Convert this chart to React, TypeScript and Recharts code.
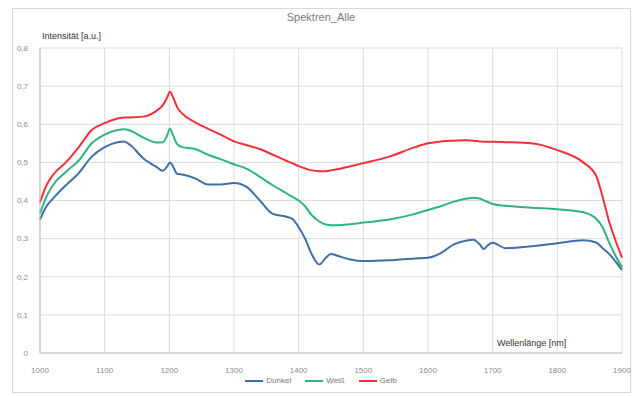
import React from 'react';
import { LineChart, Line, XAxis, YAxis, CartesianGrid } from 'recharts';

const wavelengths = [1000,1010,1020,1040,1060,1080,1100,1120,1130,1140,1160,1180,1190,1196,1201,1206,1212,1220,1240,1260,1280,1300,1320,1340,1360,1380,1390,1400,1410,1420,1432,1442,1450,1460,1480,1500,1540,1580,1600,1620,1640,1660,1670,1680,1686,1692,1700,1720,1760,1800,1840,1860,1870,1880,1890,1900];

const dunkel = [0.35,0.385,0.405,0.44,0.472,0.515,0.54,0.553,0.555,0.545,0.51,0.488,0.478,0.488,0.5,0.488,0.47,0.468,0.458,0.442,0.442,0.446,0.435,0.4,0.365,0.358,0.352,0.33,0.3,0.26,0.232,0.25,0.26,0.255,0.245,0.241,0.243,0.248,0.25,0.262,0.285,0.295,0.297,0.285,0.273,0.282,0.289,0.275,0.28,0.288,0.296,0.29,0.275,0.26,0.24,0.218];

const weiss = [0.365,0.41,0.44,0.475,0.505,0.55,0.573,0.585,0.587,0.583,0.565,0.552,0.553,0.568,0.588,0.57,0.548,0.54,0.535,0.52,0.508,0.495,0.483,0.462,0.44,0.42,0.41,0.4,0.385,0.362,0.345,0.337,0.335,0.335,0.338,0.342,0.35,0.365,0.375,0.385,0.397,0.405,0.407,0.405,0.401,0.396,0.391,0.386,0.381,0.377,0.369,0.352,0.33,0.29,0.255,0.225];

const gelb = [0.395,0.44,0.467,0.5,0.54,0.585,0.603,0.615,0.618,0.618,0.62,0.635,0.65,0.668,0.685,0.67,0.645,0.628,0.605,0.588,0.572,0.555,0.545,0.535,0.52,0.505,0.498,0.49,0.484,0.479,0.477,0.477,0.479,0.482,0.49,0.498,0.515,0.54,0.55,0.555,0.557,0.558,0.557,0.555,0.554,0.554,0.554,0.553,0.55,0.532,0.5,0.465,0.41,0.345,0.295,0.25];

const xTicks = [1000,1100,1200,1300,1400,1500,1600,1700,1800,1900];
const yTicks = [0,0.1,0.2,0.3,0.4,0.5,0.6,0.7,0.8];

const seriesNames = ['Dunkel', 'Weiß', 'Gelb'];
const seriesColors = ['#3f6fa6', '#2fb37f', '#f2303c'];

const data = wavelengths.map((w, i) => ({ w, Dunkel: dunkel[i], 'Weiß': weiss[i], Gelb: gelb[i] }));

const font = '"Liberation Sans", "DejaVu Sans", sans-serif';

export default function App() {
  return (
    <div style={{ position: 'absolute', left: 0, top: 0, width: 642, height: 396, background: '#fff', fontFamily: font }}>
      <div style={{ position: 'absolute', left: 12, top: 8, width: 617, height: 383, border: '1px solid #d9d9d9' }} />
      <LineChart width={642} height={396} data={data} margin={{ top: 48, right: 20, bottom: 23, left: 0 }}>
        <CartesianGrid stroke="#dcdcdc" strokeWidth={1} />
        <XAxis
          dataKey="w"
          type="number"
          domain={[1000, 1900]}
          ticks={xTicks}
          height={20}
          tickLine={false}
          axisLine={{ stroke: '#bfbfbf' }}
          tickMargin={8}
          tick={{ fontSize: 8, fill: '#8c8c8c', fontFamily: font }}
        />
        <YAxis
          type="number"
          domain={[0, 0.8]}
          ticks={yTicks}
          width={40}
          tickLine={false}
          axisLine={{ stroke: '#bfbfbf' }}
          tickMargin={6}
          tick={{ fontSize: 8, fill: '#8c8c8c', fontFamily: font }}
          tickFormatter={(v: number) => (v === 0 ? '0' : v.toFixed(1).replace('.', ','))}
        />
        {seriesNames.map((n, i) => (
          <Line key={n} dataKey={n} type="monotone" stroke={seriesColors[i]} strokeWidth={2} dot={false} isAnimationActive={false} />
        ))}
      </LineChart>
      <div style={{ position: 'absolute', left: 0, width: 642, top: 11, textAlign: 'center', fontSize: 11, color: '#7a7a7a' }}>Spektren_Alle</div>
      <div style={{ position: 'absolute', left: 42, top: 31, fontSize: 9, color: '#333' }}>Intensität [a.u.]</div>
      <div style={{ position: 'absolute', left: 497, top: 338, fontSize: 9, color: '#333' }}>Wellenlänge [nm]</div>
      <div style={{ position: 'absolute', left: 0, width: 642, top: 376, display: 'flex', justifyContent: 'center', gap: 14, fontSize: 8, color: '#7a7a7a' }}>
        {seriesNames.map((n, i) => (
          <div key={n} style={{ display: 'flex', alignItems: 'center', gap: 3 }}>
            <div style={{ width: 18, height: 2, background: seriesColors[i] }} />
            <span>{n}</span>
          </div>
        ))}
      </div>
    </div>
  );
}
